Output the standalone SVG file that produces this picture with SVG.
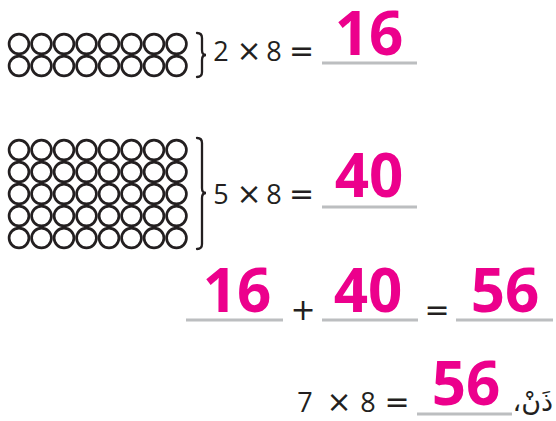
<svg xmlns="http://www.w3.org/2000/svg" width="556" height="421" viewBox="0 0 556 421">
<style>
.c{fill:none;stroke:#231f20;stroke-width:2.7}
.br{fill:none;stroke:#231f20;stroke-width:2.3;stroke-linecap:round}
.t{font-family:"Open Sans","Liberation Sans",sans-serif;font-size:27px;fill:#231f20;text-anchor:middle}
.o{font-family:"DejaVu Sans","Liberation Sans",sans-serif;font-size:30px;fill:#231f20;text-anchor:middle}
.p{font-family:"Open Sans","Liberation Sans",sans-serif;font-weight:bold;font-size:60px;fill:#ec008c;text-anchor:middle}
.ln{stroke:#bcbec0;stroke-width:3}
.ar{font-family:"DejaVu Sans","Noto Sans",sans-serif;font-size:27px;fill:#231f20}
</style>
<defs>
<g id="row">
<circle class="c" cx="19" cy="0" r="9.9"/>
<circle class="c" cx="41.5" cy="0" r="9.9"/>
<circle class="c" cx="64" cy="0" r="9.9"/>
<circle class="c" cx="86.5" cy="0" r="9.9"/>
<circle class="c" cx="109" cy="0" r="9.9"/>
<circle class="c" cx="131.5" cy="0" r="9.9"/>
<circle class="c" cx="154" cy="0" r="9.9"/>
<circle class="c" cx="176.5" cy="0" r="9.9"/>
</g>
</defs>
<g id="array1">
<use href="#row" y="44"/>
<use href="#row" y="66"/>
<path class="br" d="M197 33 Q202 33 202 38 L202 50 Q202 55 206 55 Q202 55 202 60 L202 72 Q202 77 197 77"/>
</g>
<g id="eq1">
<text class="t" x="221" y="61">2</text>
<text class="o" x="249" y="61">×</text>
<text class="t" x="274" y="61">8</text>
<text class="o" x="301.5" y="61">=</text>
<line class="ln" x1="322" y1="63" x2="417" y2="63"/>
<text class="p" x="369" y="55">16</text>
</g>
<g id="array2">
<use href="#row" y="150"/>
<use href="#row" y="172"/>
<use href="#row" y="194"/>
<use href="#row" y="216"/>
<use href="#row" y="238"/>
<path class="br" d="M197 138 Q202 138 202 143 L202 188 Q202 193 206 193 Q202 193 202 198 L202 244 Q202 249 197 249"/>
</g>
<g id="eq2">
<text class="t" x="221" y="204">5</text>
<text class="o" x="249" y="204">×</text>
<text class="t" x="274" y="204">8</text>
<text class="o" x="301.5" y="204">=</text>
<line class="ln" x1="322" y1="207" x2="417" y2="207"/>
<text class="p" x="369" y="197">40</text>
</g>
<g id="eq3">
<line class="ln" x1="186" y1="320" x2="283" y2="320"/>
<text class="p" x="237" y="312">16</text>
<text class="o" x="303" y="320">+</text>
<line class="ln" x1="322" y1="320" x2="418" y2="320"/>
<text class="p" x="368" y="312">40</text>
<text class="o" x="437" y="320">=</text>
<line class="ln" x1="456" y1="320" x2="553" y2="320"/>
<text class="p" x="505" y="312">56</text>
</g>
<g id="eq4">
<text class="t" x="305" y="412">7</text>
<text class="o" x="339" y="412">×</text>
<text class="t" x="368" y="412">8</text>
<text class="o" x="397" y="412">=</text>
<line class="ln" x1="417" y1="414" x2="512" y2="414"/>
<text class="p" x="466" y="405">56</text>
<text class="ar" x="553" y="411" direction="rtl" text-anchor="start">ذَنْ،</text>
</g>
</svg>
